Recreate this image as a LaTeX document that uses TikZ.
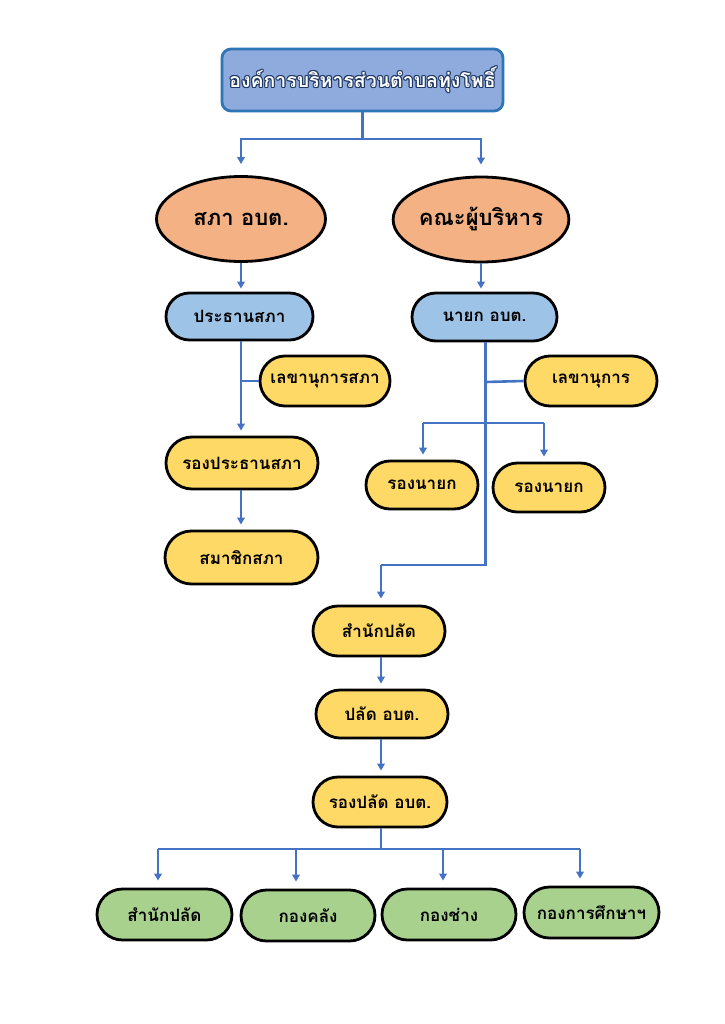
\documentclass[tikz,border=0pt]{standalone}
\usepackage{fontspec}
\newfontfamily\thai[Script=Thai]{Loma}
\usetikzlibrary{shapes.misc,shapes.geometric,arrows.meta,calc}
\definecolor{cline}{HTML}{4472C4}
\definecolor{topfill}{HTML}{8FAADC}
\definecolor{topdraw}{HTML}{2E75B6}
\definecolor{titleol}{HTML}{1F3864}
\definecolor{salmon}{HTML}{F4B183}
\definecolor{lblue}{HTML}{9DC3E6}
\definecolor{yell}{HTML}{FFD966}
\definecolor{grn}{HTML}{A9D18E}
\begin{document}
\begin{tikzpicture}[x=1pt,y=-1pt,
  box/.style={rounded rectangle, draw=black, line width=2.8pt, inner sep=0pt,
    font=\thai\bfseries\fontsize{17}{19}\selectfont},
  bluebox/.style={box, fill=lblue},
  yelbox/.style={box, fill=yell},
  grnbox/.style={box, fill=grn},
  ell/.style={ellipse, draw=black, line width=2.8pt, fill=salmon, inner sep=0pt,
    minimum width=169pt, minimum height=85pt,
    font=\thai\bfseries\fontsize{22}{26}\selectfont},
  ttext/.style={inner sep=0pt, font=\thai\bfseries\fontsize{19.5}{23}\selectfont},
  ln/.style={draw=cline, line width=2.6pt},
  arr/.style={ln, -{Triangle[length=7pt,width=7.5pt]}}
]
\useasboundingbox[fill=white] (0,0) rectangle (724,1024);

% title box
\node[draw=topdraw, fill=topfill, line width=2.8pt, rounded corners=9pt,
  minimum width=281pt, minimum height=62pt, inner sep=0pt] (top) at (362.5,80) {};
\foreach \dx/\dy [count=\i] in {-1.1/0,1.1/0,0/-1.1,0/1.1,-0.8/-0.8,0.8/0.8,-0.8/0.8,0.8/-0.8}
  \node[ttext, text=titleol] (tsh\i) at ($(top.center)+(\dx,\dy)$) {องค์การบริหารส่วนตำบลทุ่งโพธิ์};
\node[ttext, text=white] (ttl) at (top.center) {องค์การบริหารส่วนตำบลทุ่งโพธิ์};

% ellipses
\node[ell] (sapha) at (241,219) {สภา อบต.};
\node[ell] (khana) at (481,219.5) {คณะผู้บริหาร};

% left column
\node[bluebox, minimum width=147pt, minimum height=47pt] (prathan) at (239.5,316.5) {ประธานสภา};
\node[yelbox, minimum width=130pt, minimum height=50pt] (lekhasapha) at (325,381) {เลขานุการสภา};
\node[yelbox, minimum width=152pt, minimum height=52pt] (rongprathan) at (242,463) {รองประธานสภา};
\node[yelbox, minimum width=153pt, minimum height=53pt] (samachik) at (241.5,557.5) {สมาชิกสภา};

% right column
\node[bluebox, minimum width=145pt, minimum height=48pt] (nayok) at (484.5,317) {นายก อบต.};
\node[yelbox, minimum width=132pt, minimum height=50pt] (lekha) at (591,381) {เลขานุการ};
\node[yelbox, minimum width=112pt, minimum height=48pt] (rn1) at (422,485) {รองนายก};
\node[yelbox, minimum width=112pt, minimum height=49pt] (rn2) at (549,487.5) {รองนายก};

% centre column
\node[yelbox, minimum width=132pt, minimum height=50pt] (samnak) at (379,631) {สำนักปลัด};
\node[yelbox, minimum width=132pt, minimum height=48pt] (palad) at (382,714) {ปลัด อบต.};
\node[yelbox, minimum width=134pt, minimum height=50pt] (rongpalad) at (380,802) {รองปลัด อบต.};

% bottom row
\node[grnbox, minimum width=135pt, minimum height=51pt] (g1) at (164.5,914.5) {สำนักปลัด};
\node[grnbox, minimum width=134pt, minimum height=51pt] (g2) at (308,915.5) {กองคลัง};
\node[grnbox, minimum width=134pt, minimum height=51pt] (g3) at (449,914.5) {กองช่าง};
\node[grnbox, minimum width=135pt, minimum height=51pt] (g4) at (591.5,912.5) {กองการศึกษาฯ};

% connectors: top
\coordinate (j0) at (362.5,139);
\draw[ln] (top.south) -- (j0);
\draw[arr, shorten >=11pt] (j0) -| (sapha.north);
\draw[arr, shorten >=11pt] (j0) -| (khana.north);
\draw[arr, shorten >=3pt] (sapha.south) -- (sapha.south |- prathan.north);
\draw[arr, shorten >=3pt] (khana.south) -- (khana.south |- nayok.north);

% left column connectors
\coordinate (jl) at (241,381);
\draw[arr, shorten >=5pt] (prathan.south -| jl) -- (jl |- rongprathan.north);
\draw[ln] (jl) -- (lekhasapha.west);
\draw[arr, shorten >=5pt] (rongprathan.south -| jl) -- (jl |- samachik.north);

% right column connectors
\coordinate (jr1) at (485.5,382);
\coordinate (jr3) at (485.5,565);
\coordinate (jb1) at (423,423);
\coordinate (jb2) at (544,423);
\coordinate (jc) at (381,565);
\draw[ln] (nayok.south -| jr1) -- (jr3) -- (jc);
\draw[ln] (jr1) -- (lekha.west);
\draw[ln] (jb1) -- (jb2);
\draw[arr, shorten >=5pt] (jb1) -- (jb1 |- rn1.north);
\draw[arr, shorten >=5pt] (jb2) -- (jb2 |- rn2.north);
\draw[arr, shorten >=6pt] (jc) -- (jc |- samnak.north);

% centre column connectors
\draw[arr, shorten >=5pt] (samnak.south -| jc) -- (jc |- palad.north);
\draw[arr, shorten >=5pt] (palad.south -| jc) -- (jc |- rongpalad.north);

% bottom connectors
\coordinate (jd) at (381,849);
\coordinate (d1) at (158,849);
\coordinate (d2) at (296,849);
\coordinate (d3) at (443,849);
\coordinate (d4) at (580,849);
\draw[ln] (rongpalad.south -| jd) -- (jd);
\draw[ln] (d1) -- (d4);
\draw[arr, shorten >=7pt] (d1) -- (d1 |- g1.north);
\draw[arr, shorten >=7pt] (d2) -- (d2 |- g2.north);
\draw[arr, shorten >=7pt] (d3) -- (d3 |- g3.north);
\draw[arr, shorten >=7pt] (d4) -- (d4 |- g4.north);
\end{tikzpicture}
\end{document}
